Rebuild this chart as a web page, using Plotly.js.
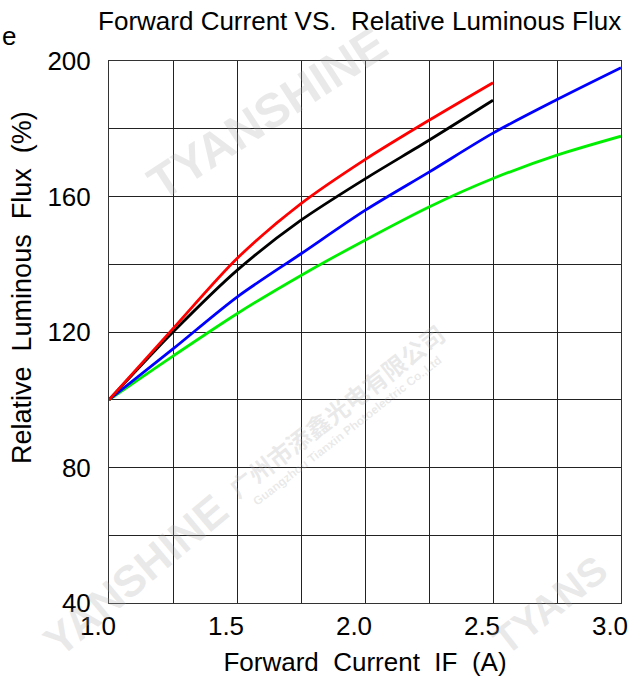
<!DOCTYPE html>
<html>
<head>
<meta charset="utf-8">
<script src="https://cdn.plot.ly/plotly-3.0.1.min.js"></script>
<style>html,body{margin:0;padding:0;background:#fff;}#chart{width:641px;height:680px;}</style>
</head>
<body>
<div id="chart"></div>
<script>
// Forward current (A)
const currentShort = [1.0, 1.25, 1.5, 1.75, 2.0, 2.25, 2.5];
const currentLong  = [1.0, 1.25, 1.5, 1.75, 2.0, 2.25, 2.5, 2.75, 3.0];
// Relative luminous flux (%)
const fluxRed   = [100, 121.0, 141.7, 157.9, 170.9, 182.5, 193.6];
const fluxBlack = [100, 120.0, 138.2, 153.0, 165.2, 176.6, 188.4];
const fluxBlue  = [100, 115.0, 130.3, 143.1, 155.9, 167.2, 178.7, 188.6, 198.0];
const fluxGreen = [100, 112.9, 125.4, 136.7, 147.1, 156.9, 165.3, 172.2, 177.8];
const xTicks = [1.0, 1.5, 2.0, 2.5, 3.0];
const xTickText = ["1.0", "1.5", "2.0", "2.5", "3.0"];
const yTicks = [40, 80, 120, 160, 200];

const FONT = "Liberation Sans, Arial, sans-serif";
function tr(x, y, color) {
  return {x: x, y: y, type: "scatter", mode: "lines", showlegend: false,
    line: {color: color, width: 2.8, shape: "spline", smoothing: 0.8}, hoverinfo: "skip"};
}
const data = [
  tr(currentLong, fluxGreen, "#00ee00"),
  tr(currentLong, fluxBlue, "#0000ff"),
  tr(currentShort, fluxBlack, "#000000"),
  tr(currentShort, fluxRed, "#ff0000")
];
const wm = "rgba(170,170,170,0.26)";
function mark(text, x, y, size, angle, family) {
  return {text: "<b>" + text + "</b>", xref: "paper", yref: "paper", x: x, y: y,
    xanchor: "center", yanchor: "middle", showarrow: false, textangle: angle,
    font: {family: family || FONT, size: size, color: wm}};
}
const layout = {
  width: 641, height: 680,
  margin: {l: 109, r: 20, t: 61, b: 77},
  paper_bgcolor: "#fff", plot_bgcolor: "#fff",
  font: {family: FONT, color: "#000", size: 26},
  title: {text: "Forward Current VS.  Relative Luminous Flux", x: 0.561, xanchor: "center",
          y: 0.969, yanchor: "middle", font: {family: FONT, size: 26, color: "#000"}},
  xaxis: {range: [1.0, 3.0], tickvals: xTicks, ticktext: xTickText, ticks: "", ticklabelshift: -11,
          showgrid: true, gridcolor: "#222", gridwidth: 1, zeroline: false,
          minor: {dtick: 0.25, showgrid: true, gridcolor: "#222", gridwidth: 1},
          showline: true, linecolor: "#333", linewidth: 1, mirror: true,
          tickfont: {family: FONT, size: 26},
          title: {text: "Forward  Current  IF  (A)", standoff: 12, font: {family: FONT, size: 26}}},
  yaxis: {range: [40, 200], tickvals: yTicks, ticks: "", ticklabelstandoff: 12,
          showgrid: true, gridcolor: "#222", gridwidth: 1, zeroline: false,
          minor: {dtick: 20, showgrid: true, gridcolor: "#222", gridwidth: 1},
          showline: true, linecolor: "#333", linewidth: 1, mirror: true,
          tickfont: {family: FONT, size: 26},
          title: {text: ""}},
  annotations: [
    {text: "Relative  Luminous  Flux  (%)", xref: "paper", yref: "paper", x: -0.17, y: 0.583,
     xanchor: "center", yanchor: "middle", textangle: -90, showarrow: false,
     font: {family: FONT, size: 27, color: "#000"}},
    {text: "e", xref: "paper", yref: "paper", x: -0.213, y: 1.046, xanchor: "left", yanchor: "middle",
     showarrow: false, font: {family: FONT, size: 26, color: "#000"}},
    mark("TYANSHINE", 0.309, 0.903, 48, -33),
    mark("YANSHINE", 0.051, 0.051, 44, -40),
    mark("TYANS", 0.861, -0.004, 40, -38),
    mark("广州市添鑫光电有限公司", 0.443, 0.356, 24, -37.6, "Noto Sans CJK SC"),
    mark("Guangzhou Tianxin Photoelectric Co.,Ltd", 0.465, 0.317, 12, -37.9)
  ]
};
Plotly.newPlot("chart", data, layout, {staticPlot: true, displayModeBar: false});
</script>
</body>
</html>
